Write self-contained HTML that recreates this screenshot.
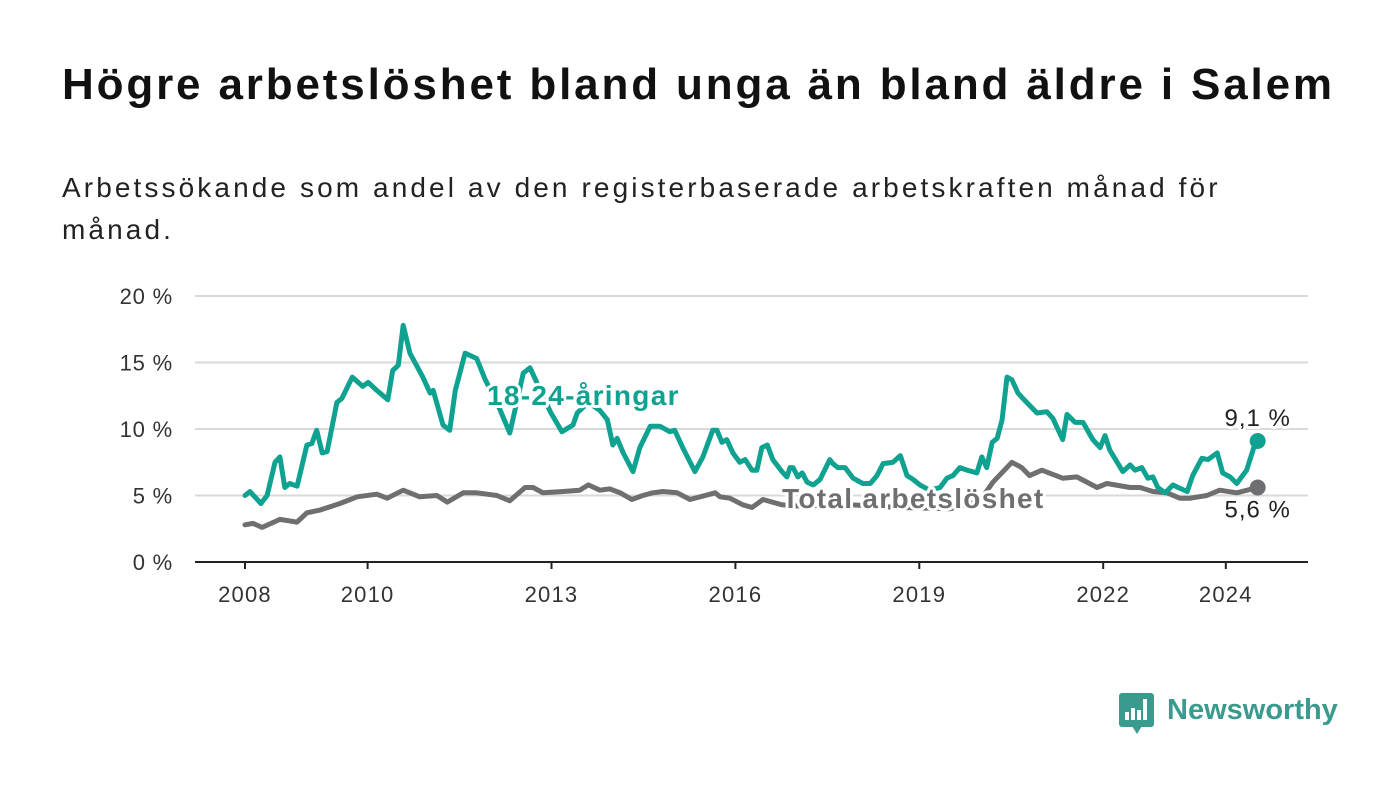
<!DOCTYPE html>
<html><head><meta charset="utf-8"><style>
body{margin:0;background:#fff;width:1400px;height:794px;overflow:hidden;font-family:"Liberation Sans",sans-serif}
#title{position:absolute;left:62px;top:60px;font-size:44px;font-weight:bold;color:#111;margin:0;white-space:nowrap;letter-spacing:2.85px}
#sub{position:absolute;left:62px;top:167px;font-size:28px;color:#222;line-height:42px;width:1300px;letter-spacing:3.1px;white-space:nowrap}
svg{position:absolute;left:0;top:0}
</style></head><body>
<h1 id="title">Högre arbetslöshet bland unga än bland äldre i Salem</h1>
<div id="sub">Arbetssökande som andel av den registerbaserade arbetskraften månad för<br>månad.</div>
<svg id="chart" width="1400" height="794"></svg>
<script>
const youthYears=[2008.0,2008.08,2008.26,2008.36,2008.49,2008.57,2008.65,2008.73,2008.85,2009.01,2009.09,2009.17,2009.26,2009.34,2009.5,2009.58,2009.75,2009.92,2010.01,2010.15,2010.33,2010.41,2010.5,2010.58,2010.69,2010.9,2011.02,2011.07,2011.23,2011.34,2011.43,2011.59,2011.78,2011.92,2012.11,2012.32,2012.54,2012.65,2012.81,2012.98,2013.17,2013.35,2013.42,2013.6,2013.79,2013.91,2014.0,2014.07,2014.17,2014.33,2014.44,2014.61,2014.77,2014.93,2015.01,2015.14,2015.34,2015.47,2015.63,2015.7,2015.78,2015.86,2015.96,2016.07,2016.16,2016.27,2016.35,2016.43,2016.52,2016.61,2016.76,2016.84,2016.89,2016.94,2017.02,2017.09,2017.17,2017.27,2017.38,2017.54,2017.59,2017.67,2017.79,2017.92,2018.08,2018.2,2018.31,2018.41,2018.57,2018.69,2018.8,2018.9,2019.01,2019.17,2019.34,2019.45,2019.55,2019.66,2019.78,2019.94,2020.02,2020.1,2020.19,2020.27,2020.35,2020.43,2020.51,2020.61,2020.69,2020.92,2021.08,2021.18,2021.34,2021.41,2021.54,2021.67,2021.83,2021.95,2022.03,2022.11,2022.32,2022.44,2022.52,2022.63,2022.73,2022.81,2022.89,2023.01,2023.14,2023.22,2023.37,2023.46,2023.61,2023.71,2023.86,2023.95,2024.07,2024.18,2024.34,2024.47,2024.52];
const youthValues=[5.0,5.3,4.4,5.0,7.5,7.9,5.6,5.9,5.7,8.8,8.9,9.9,8.2,8.3,12.0,12.3,13.9,13.2,13.5,12.9,12.2,14.4,14.8,17.8,15.7,13.9,12.7,12.9,10.3,9.9,12.9,15.7,15.3,13.7,12.0,9.7,14.2,14.6,13.0,11.3,9.8,10.3,11.2,12.0,11.4,10.7,8.8,9.3,8.2,6.8,8.6,10.2,10.2,9.8,9.9,8.6,6.8,7.9,9.9,9.9,9.0,9.2,8.2,7.5,7.7,6.9,6.9,8.6,8.8,7.7,6.8,6.4,7.1,7.1,6.4,6.7,6.0,5.8,6.2,7.7,7.4,7.1,7.1,6.3,5.9,5.9,6.5,7.4,7.5,8.0,6.5,6.2,5.8,5.4,5.6,6.3,6.5,7.1,6.9,6.7,7.9,7.1,9.0,9.3,10.7,13.9,13.7,12.7,12.3,11.2,11.3,10.8,9.2,11.1,10.5,10.5,9.2,8.6,9.5,8.4,6.8,7.3,6.9,7.1,6.3,6.4,5.6,5.2,5.8,5.6,5.3,6.5,7.8,7.7,8.2,6.7,6.4,5.9,6.9,8.8,9.1];
const totalYears=[2008.0,2008.13,2008.28,2008.57,2008.85,2009.01,2009.22,2009.55,2009.83,2010.15,2010.32,2010.58,2010.85,2011.13,2011.3,2011.56,2011.78,2012.11,2012.32,2012.57,2012.7,2012.86,2013.19,2013.46,2013.6,2013.79,2013.95,2014.12,2014.31,2014.49,2014.65,2014.82,2015.05,2015.26,2015.67,2015.75,2015.91,2016.12,2016.27,2016.45,2016.76,2017.05,2017.87,2018.69,2019.5,2019.99,2020.2,2020.51,2020.67,2020.8,2021.0,2021.34,2021.57,2021.9,2022.06,2022.44,2022.6,2022.81,2023.04,2023.25,2023.42,2023.69,2023.9,2024.18,2024.52];
const totalValues=[2.8,2.9,2.6,3.2,3.0,3.7,3.9,4.4,4.9,5.1,4.8,5.4,4.9,5.0,4.5,5.2,5.2,5.0,4.6,5.6,5.6,5.2,5.3,5.4,5.8,5.4,5.5,5.2,4.7,5.0,5.2,5.3,5.2,4.7,5.2,4.9,4.8,4.3,4.1,4.7,4.3,4.2,4.3,4.1,4.0,4.6,6.0,7.5,7.1,6.5,6.9,6.3,6.4,5.6,5.9,5.6,5.6,5.3,5.2,4.8,4.8,5.0,5.4,5.2,5.6];
const yTicks=[0,5,10,15,20];
const yTickLabels=["0 %","5 %","10 %","15 %","20 %"];
const xTicks=[2008,2010,2013,2016,2019,2022,2024];
const xTickLabels=["2008","2010","2013","2016","2019","2022","2024"];

const NS="http://www.w3.org/2000/svg";
const svg=document.getElementById('chart');
const X=y=>245+(y-2008)*61.3;
const Y=v=>562-v*13.3;
const TEAL="#0fa291",GREY="#6f6f72";
function mk(tag,attrs,parent){const e=document.createElementNS(NS,tag);for(const k in attrs)e.setAttribute(k,attrs[k]);(parent||svg).appendChild(e);return e;}
yTicks.forEach((t,i)=>{
  if(t>0){const g=mk('line',{x1:195,x2:1308,y1:Y(t),y2:Y(t),stroke:'#d9d9d9','stroke-width':2});
  
  }
  const tx=mk('text',{x:173,y:Y(t)+8,'text-anchor':'end','font-size':22,'letter-spacing':0.8,fill:'#333'});
  tx.textContent=yTickLabels[i];
  
  
});
const ax=mk('line',{x1:195,x2:1308,y1:562,y2:562,stroke:'#222','stroke-width':2});


xTicks.forEach((t,i)=>{
  const tk=mk('line',{x1:X(t),x2:X(t),y1:562,y2:569,stroke:'#222','stroke-width':2});
  
  
  const tx=mk('text',{x:X(t),y:602,'text-anchor':'middle','font-size':22,'letter-spacing':1.2,fill:'#333'});
  tx.textContent=xTickLabels[i];
  
  
});
function line(xs,vs,color,name){
  const d=xs.map((x,i)=>(i?'L':'M')+X(x).toFixed(1)+','+Y(vs[i]).toFixed(1)).join('');
  const p=mk('path',{d:d,fill:'none',stroke:color,'stroke-width':5,'stroke-linejoin':'round','stroke-linecap':'round'});
  
  
  const n=xs.length-1;
  const c=mk('circle',{cx:X(xs[n]),cy:Y(vs[n]),r:8,fill:color});
  
  
}
line(totalYears,totalValues,GREY,'total-line');
line(youthYears,youthValues,TEAL,'youth-line');
function label(txt,x,y,color,size,weight,anchor,ls,name){
  const t=mk('text',{x:x,y:y,fill:color,'font-size':size,'font-weight':weight,'text-anchor':anchor,'letter-spacing':ls,stroke:'#fff','stroke-width':6,'paint-order':'stroke','stroke-linejoin':'round'});
  t.textContent=txt;
  
  
}
label('18-24-åringar',487,405,TEAL,28,'bold','start',1.3,'youth-series-label');
label('Total arbetslöshet',782,508,GREY,28,'bold','start',1.3,'total-series-label');
const ny=youthValues.length-1,nt=totalValues.length-1;
label(youthValues[ny].toFixed(1).replace('.',',')+' %',X(youthYears[ny]),Y(youthValues[ny])-15,'#222',24,'normal','middle',1,'youth-end-value');
label(totalValues[nt].toFixed(1).replace('.',',')+' %',X(totalYears[nt]),Y(totalValues[nt])+30,'#222',24,'normal','middle',1,'total-end-value');
// logo
const lg=mk('g',{});


mk('rect',{x:1119,y:693,width:35,height:34,rx:3,fill:'#3a9a8e'},lg);
mk('path',{d:'M1132,726 L1137,734 L1142,726 Z',fill:'#3a9a8e'},lg);
[[1125,712,4,8],[1131,708,4,12],[1137,710,4,10],[1143,699,4,21]].forEach(r=>mk('rect',{x:r[0],y:r[1],width:r[2],height:r[3],fill:'#fff'},lg));
const lt=mk('text',{x:1167,y:719,'font-size':29,'font-weight':'bold',fill:'#3a9a8e'},lg);
lt.textContent='Newsworthy';
</script>
</body></html>
